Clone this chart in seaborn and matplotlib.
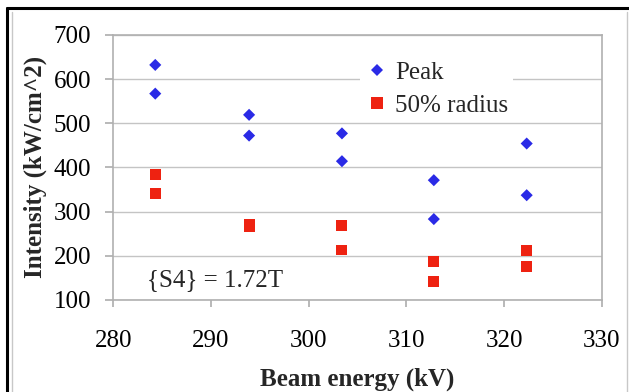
import pandas as pd
import seaborn as sns
import matplotlib.pyplot as plt
from matplotlib.lines import Line2D

# values
energy = [284.3, 284.3, 293.9, 293.9, 303.4, 303.4, 312.8, 312.8, 322.3, 322.3]
peak = [632, 567, 519, 472, 477, 414, 371, 283, 454, 337]
radius50 = [383, 341, 270, 266, 268, 213, 187, 142, 212, 176]

x_ticks = [280, 290, 300, 310, 320, 330]
y_ticks = [100, 200, 300, 400, 500, 600, 700]

df = pd.DataFrame({
    "Beam energy (kV)": energy * 2,
    "Intensity": peak + radius50,
    "Series": ["Peak"] * len(peak) + ["50% radius"] * len(radius50),
})

sns.set_theme(style="white")
plt.rcParams["font.family"] = ["Liberation Serif", "DejaVu Serif"]
plt.rcParams["mathtext.default"] = "regular"

BLUE = "#2a2ae6"
RED = "#ee2211"
GRID = "#c4c4c4"

fig = plt.figure(figsize=(6.29, 3.92), dpi=100)
ax = fig.add_axes([0.180, 0.235, 0.777, 0.676])

sns.scatterplot(data=df[df["Series"] == "Peak"], x="Beam energy (kV)", y="Intensity",
                marker="D", s=38, color=BLUE, edgecolor="none", ax=ax, legend=False, zorder=3)
sns.scatterplot(data=df[df["Series"] == "50% radius"], x="Beam energy (kV)", y="Intensity",
                marker="s", s=62, color=RED, edgecolor="none", ax=ax, legend=False, zorder=3)

ax.set_xlim(280, 330)
ax.set_ylim(100, 700)
ax.set_xticks(x_ticks)
ax.set_yticks(y_ticks)
ax.yaxis.grid(True, color=GRID, lw=1)
ax.xaxis.grid(False)
ax.set_axisbelow(True)
for sp in ax.spines.values():
    sp.set_color("#b0b0b0")
    sp.set_linewidth(1.2)

ax.tick_params(axis="both", labelsize=18, colors="black")
ax.tick_params(axis="x", direction="out", length=5, color="#b0b0b0", bottom=True, pad=17)
ax.tick_params(axis="y", direction="out", length=6, color="#b0b0b0", left=True, pad=10)

ax.set_xlabel("Beam energy (kV)", fontsize=18, fontweight="bold", labelpad=11)
ax.set_ylabel("Intensity (kW/cm^2)", fontsize=18, fontweight="bold", labelpad=5)

ax.text(283.5, 146, "{S4} = 1.72T", fontsize=18, va="center", ha="left")

handles = [
    Line2D([], [], marker="D", ls="none", color=BLUE, markersize=6, markeredgewidth=0),
    Line2D([], [], marker="s", ls="none", color=RED, markersize=8, markeredgewidth=0),
]
leg = ax.legend(handles, ["Peak", "50% radius"], loc="upper left",
                bbox_to_anchor=(0.48, 0.965), fontsize=18, frameon=True,
                handletextpad=0.3, handlelength=0.9, labelspacing=0.4,
                borderpad=0.2, fancybox=False)
leg.get_frame().set_facecolor("white")
leg.get_frame().set_edgecolor("none")
leg.get_frame().set_alpha(1)

# outer frame around the figure
fig.add_artist(Line2D([7 / 629, 7 / 629], [0, 1 - 8 / 392], color="black", lw=2.2))
fig.add_artist(Line2D([7 / 629, 1], [1 - 8 / 392, 1 - 8 / 392], color="black", lw=2.2))
fig.add_artist(Line2D([12 / 629, 12 / 629], [0, 1 - 12 / 392], color="#c8c8c8", lw=1))
fig.add_artist(Line2D([627 / 629, 627 / 629], [0, 1 - 12 / 392], color="#c8c8c8", lw=1))

fig.savefig("out.png", dpi=100, facecolor="white")
